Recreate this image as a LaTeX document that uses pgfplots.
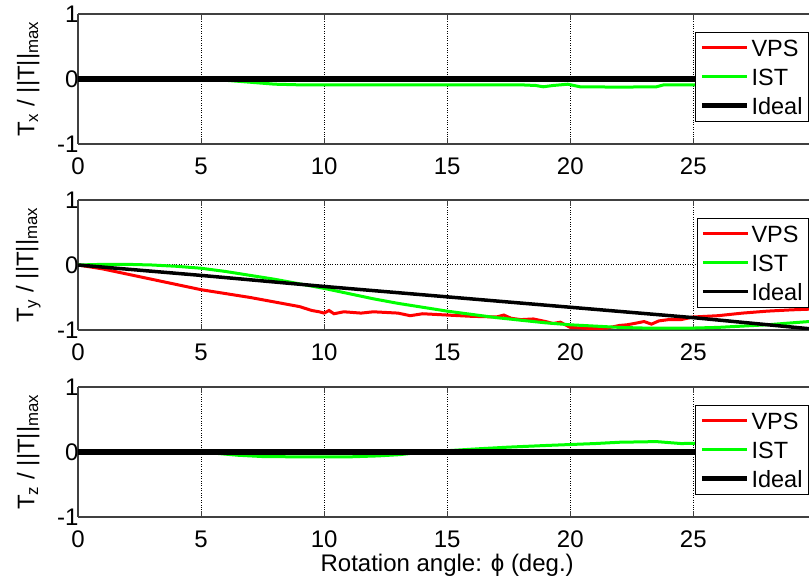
\documentclass[border=0pt]{standalone}
\usepackage{pgfplots}
\pgfplotsset{compat=1.18}
\usepackage{fontspec}
\setmainfont{Liberation Sans}
\definecolor{mred}{rgb}{1,0,0}
\definecolor{mgreen}{rgb}{0,1,0}
\pgfplotsset{
  myax/.style={
    scale only axis, width=731pt, height=130pt,
    xmin=0, xmax=29.7, ymin=-1, ymax=1,
    xtick={0,5,10,15,20,25}, ytick={-1,0,1},
    axis x line*=box, axis y line*=left, ytick pos=left,
    axis line style={line width=1.2pt, black!75},
    tick align=inside, major tick length=6pt,
    tick style={line width=1pt, black!75},
    xmajorgrids, ymajorgrids,
    grid style={dotted, line width=1pt, black},
    tick label style={font=\fontsize{24}{28}\selectfont},
    label style={font=\fontsize{24}{28}\selectfont},
    /pgf/number format/assume math mode=true,
    yticklabel style={xshift=4pt},
    xticklabel style={yshift=-10pt},
    ylabel style={at={(axis description cs:-0.068,0.5)}, anchor=center},
    legend style={at={(axis description cs:1,0.865)}, anchor=north east,
      draw=black, line width=1pt, fill=white,
      font=\fontsize{23.5}{28}\selectfont,
      inner xsep=4pt, inner ysep=5pt, row sep=8pt,
      nodes={inner sep=2pt, text height=17pt, text depth=0pt}},
    legend cell align=left,
    legend image code/.code={\draw[##1] (0pt,0pt) -- (45pt,0pt);},
  }
}
\begin{document}
\begin{tikzpicture}
\useasboundingbox (0pt,0pt) rectangle (809pt,-585pt);
% Panel 1: Tx
\begin{axis}[myax, at={(78pt,-14pt)}, anchor=north west,
  ylabel={T\textsubscript{x} / ||T||\textsubscript{max}}]
\addplot[mred, line width=3pt] coordinates {(0,0.015) (29.7,0.015)};
\addplot[mgreen, line width=3pt] coordinates {
(0,0) (5,0) (6,-0.02) (7,-0.05) (8,-0.08) (9,-0.09) (10,-0.09) (12,-0.09)
(14,-0.09) (16,-0.09) (18,-0.09) (18.6,-0.1) (18.9,-0.12) (19.3,-0.1)
(19.9,-0.08) (20.4,-0.12) (22,-0.125) (23.5,-0.12) (23.8,-0.09) (25,-0.09)
(27,-0.09) (29.7,-0.09)};
\addplot[black, line width=5.5pt] coordinates {(0,0) (29.7,0)};
\legend{VPS, IST, Ideal}
\end{axis}
% Panel 2: Ty
\begin{axis}[myax, at={(78pt,-200pt)}, anchor=north west,
  ylabel={T\textsubscript{y} / ||T||\textsubscript{max}}]
\addplot[mred, line width=3pt] coordinates {
(0,0) (1,-0.06) (2,-0.14) (3,-0.22) (4,-0.3) (5,-0.38) (6,-0.44) (7,-0.5)
(8,-0.57) (9,-0.64) (9.5,-0.7) (9.8,-0.72) (10,-0.74) (10.2,-0.7) (10.4,-0.75)
(10.8,-0.72) (11.5,-0.74) (12,-0.72) (13,-0.74) (13.5,-0.78) (14,-0.75)
(15,-0.77) (16,-0.79) (17,-0.8) (17.3,-0.77) (17.6,-0.82) (18,-0.84)
(18.5,-0.83) (19,-0.87) (19.3,-0.9) (19.6,-0.88) (20,-0.96) (20.5,-0.97)
(21,-0.98) (21.5,-0.97) (22,-0.93) (22.3,-0.92) (22.6,-0.9) (23,-0.87)
(23.3,-0.91) (23.6,-0.86) (24,-0.84) (24.5,-0.84) (25,-0.8) (26,-0.78)
(27,-0.74) (28,-0.71) (29,-0.69) (29.7,-0.68)};
\addplot[mgreen, line width=3pt] coordinates {
(0,0) (1,0.01) (2,0.01) (3,0) (4,-0.02) (5,-0.05) (6,-0.1) (7,-0.16)
(8,-0.22) (9,-0.29) (10,-0.36) (11,-0.44) (12,-0.52) (13,-0.59) (14,-0.65)
(15,-0.71) (16,-0.76) (17,-0.81) (18,-0.85) (19,-0.89) (20,-0.92) (21,-0.94)
(22,-0.96) (23,-0.97) (24,-0.97) (25,-0.97) (26,-0.96) (27,-0.94) (28,-0.92)
(29,-0.89) (29.7,-0.87)};
\addplot[black, line width=3.5pt] coordinates {
(0,0) (5,-0.16) (10,-0.33) (15,-0.49) (20,-0.65) (25,-0.81) (29.7,-0.98)};
\legend{VPS, IST, Ideal}
\end{axis}
% Panel 3: Tz
\begin{axis}[myax, at={(78pt,-387pt)}, anchor=north west,
  ylabel={T\textsubscript{z} / ||T||\textsubscript{max}},
  xlabel={Rotation angle: ϕ (deg.)},
  xlabel style={at={(axis description cs:0.505,0)}, anchor=base, yshift=-54pt}]
\addplot[mred, line width=3pt] coordinates {(0,0) (29.7,0)};
\addplot[mgreen, line width=3pt] coordinates {
(0,0) (5,0) (5.6,-0.02) (6.5,-0.05) (7.5,-0.07) (9,-0.075) (11,-0.075)
(12.2,-0.06) (13.1,-0.04) (14,0) (15,0.02) (16.3,0.05) (17.5,0.075)
(19,0.1) (20,0.115) (21,0.13) (22,0.15) (23.5,0.16) (24.5,0.13) (26,0.14)
(28,0.15) (29.7,0.15)};
\addplot[black, line width=5.5pt] coordinates {(0,0) (29.7,0)};
\legend{VPS, IST, Ideal}
\end{axis}
\end{tikzpicture}
\end{document}
